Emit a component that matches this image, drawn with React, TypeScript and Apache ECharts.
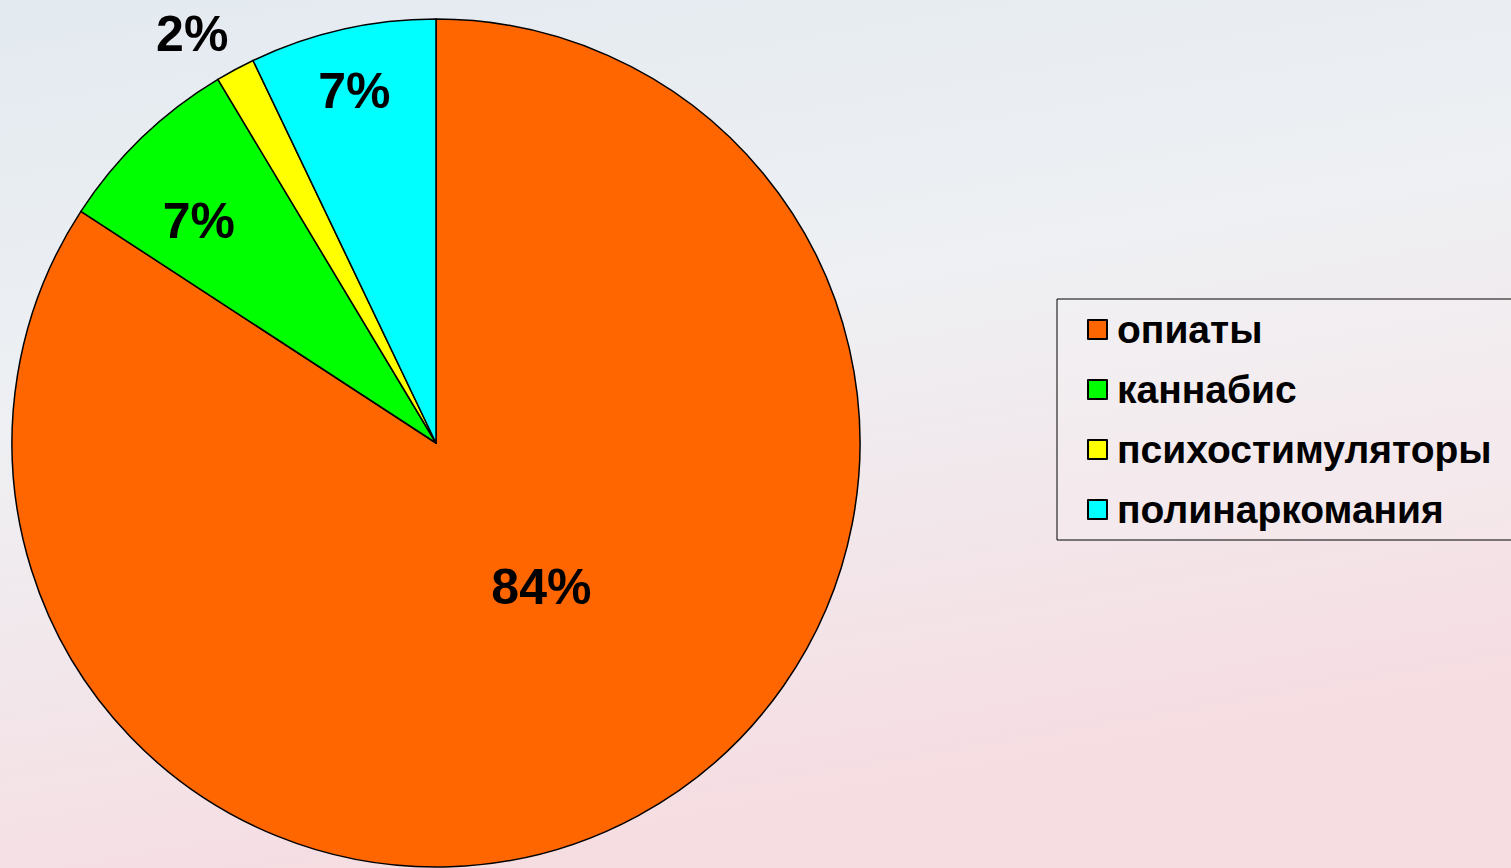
import React, { useEffect, useRef } from "react";
import * as echarts from "echarts";

const categories = ["опиаты", "каннабис", "психостимуляторы", "полинаркомания"];
const shares = [84.2, 7.2, 1.5, 7.1];
const colors = ["#FF6600", "#00FF00", "#FFFF00", "#00FFFF"];
const labelOffsets = [
  [3, -45],
  [-88, -67],
  [-142, -220],
  [-34, -142],
];

export default function App() {
  const ref = useRef<HTMLDivElement>(null);
  useEffect(() => {
    if (!ref.current) return;
    const chart = echarts.init(ref.current, null, { renderer: "svg" });
    chart.setOption({
      animation: false,
      backgroundColor: {
        type: "linear",
        x: 0,
        y: 0,
        x2: 0.3,
        y2: 1,
        colorStops: [
          { offset: 0, color: "#e3eaf0" },
          { offset: 0.45, color: "#eef0f3" },
          { offset: 1, color: "#f6dde2" },
        ],
      },
      legend: {
        orient: "vertical",
        left: 1057,
        top: 299,
        padding: [11, 60, 11, 30],
        itemWidth: 19,
        itemHeight: 19,
        itemGap: 21,
        borderColor: "#000",
        borderWidth: 1,
        backgroundColor: "rgba(255,255,255,0.15)",
        icon: "rect",
        data: categories,
        textStyle: {
          fontFamily: "Liberation Sans, Arial, sans-serif",
          fontWeight: "bold",
          fontSize: 39,
          color: "#000",
          lineHeight: 38,
          padding: [0, 0, 0, 5],
        },
      },
      series: [
        {
          type: "pie",
          center: [436, 443],
          radius: 424,
          startAngle: 90,
          clockwise: true,
          percentPrecision: 0,
          itemStyle: { borderColor: "#000", borderWidth: 1.5 },
          labelLine: { show: false },
          emphasis: { disabled: true },
          label: {
            show: true,
            position: "inside",
            formatter: "{d}%",
            fontFamily: "Liberation Sans, Arial, sans-serif",
            fontWeight: "bold",
            fontSize: 50,
            color: "#000",
          },
          data: categories.map((name, i) => ({
            name,
            value: shares[i],
            itemStyle: { color: colors[i] },
            label: { offset: labelOffsets[i] },
          })),
        },
      ],
    });
    return () => chart.dispose();
  }, []);
  return (
    <div
      ref={ref}
      style={{ position: "fixed", left: 0, top: 0, width: 1511, height: 868 }}
    />
  );
}
